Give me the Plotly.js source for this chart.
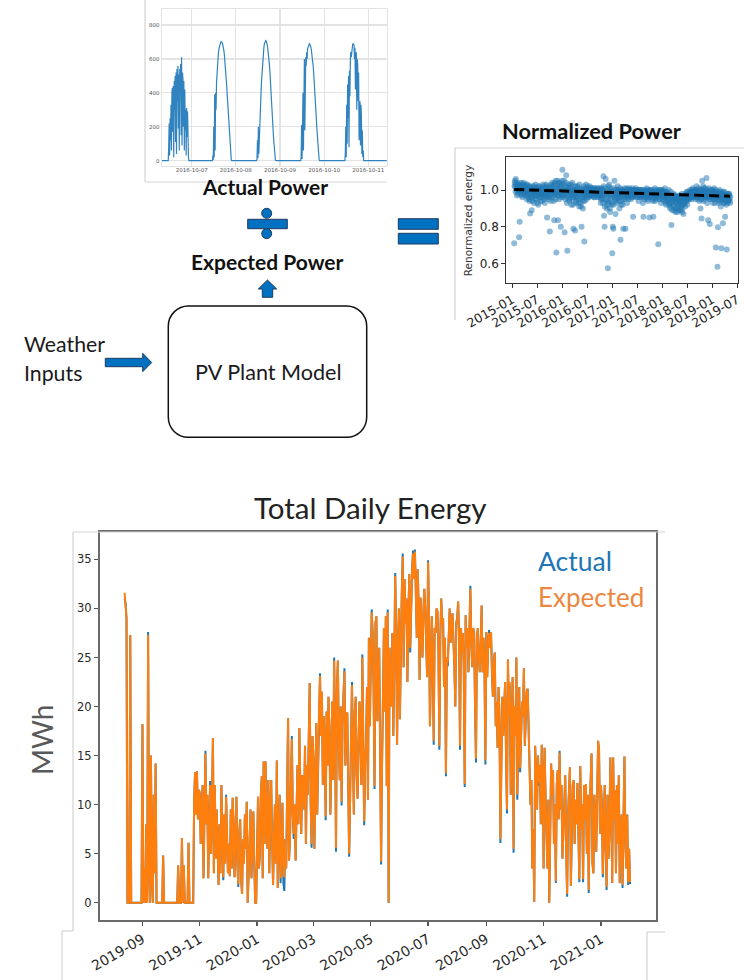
<!DOCTYPE html>
<html>
<head>
<meta charset="utf-8">
<script src="https://cdn.plot.ly/plotly-3.0.1.min.js"></script>
<style>
  html, body { margin: 0; padding: 0; background: #ffffff; }
  #chart { width: 744px; height: 980px; }
</style>
</head>
<body>
<div id="chart"></div>
<script>
// ---------- Data: AC power of the plant, 15-minute samples, 11:15 to 22:30 each day ----------
const powerDayDates = ['2016-10-06', '2016-10-07', '2016-10-08', '2016-10-09', '2016-10-10'];
const powerDay1 = [0, 80, 220, 30, 250, 120, 330, 60, 400, 430, 170, 440, 20, 470, 300, 500, 110, 520, 40, 540,
  350, 560, 190, 510, 60, 540, 400, 570, 150, 610, 90, 520, 480, 200, 470, 60, 420, 180, 300, 30,
  310, 140, 290, 60, 20, 0];
const powerDay2 = [0, 30, 5, 200, 20, 390, 60, 400, 300, 460, 520, 560, 600, 630, 655, 672, 685, 694, 699, 701,
  700, 697, 691, 681, 667, 649, 627, 600, 568, 532, 492, 448, 400, 348, 294, 240, 186, 136, 90, 52,
  24, 8, 0, 0, 0, 0];
const powerDay3 = [0, 10, 120, 15, 200, 40, 150, 230, 300, 360, 420, 475, 525, 570, 610, 642, 668, 688, 700, 707,
  708, 705, 698, 687, 671, 651, 627, 598, 565, 528, 487, 442, 394, 343, 290, 236, 183, 133, 88, 50,
  22, 6, 0, 0, 0, 0];
const powerDay4 = [0, 20, 210, 10, 150, 400, 60, 330, 600, 180, 520, 610, 560, 640, 600, 660, 672, 683, 689, 690,
  687, 681, 671, 657, 639, 617, 591, 561, 527, 489, 447, 402, 353, 302, 249, 196, 145, 98, 58, 28,
  9, 0, 0, 0, 0, 0];
const powerDay5 = [0, 40, 200, 20, 330, 100, 450, 250, 500, 80, 530, 380, 600, 640, 610, 660, 675, 686, 690, 688,
  680, 600, 666, 420, 610, 640, 300, 600, 560, 350, 520, 120, 300, 350, 90, 330, 260, 40, 180, 20,
  60, 0, 0, 0, 0, 0];
const powerEdgeTimes = ['2016-10-06 00:00', '2016-10-11 23:45'];
const powerEdgeValues = [0, 0];
const powerTickDates = ['2016-10-07', '2016-10-08', '2016-10-09', '2016-10-10', '2016-10-11'];

// ---------- Data: renormalized energy, two interleaved 4-day series (2-day spacing overall) ----------
const normStartA = '2015-01-15';
const normStartB = '2015-01-17';
const normStepDays = 4;
const normEnergyA = [
  0.71, 1.04, 1.02, 1.06, 1.00, 0.97, 1.03, 1.01, 0.99, 0.743,
  0.828, 1.02, 0.98, 1.03, 1.00, 0.96, 1.01, 1.04, 0.99, 1.02,
  0.97, 1.00, 1.03, 0.95, 1.01, 0.99, 0.96, 1.02, 0.94, 0.873,
  0.98, 1.00, 0.89, 0.96, 1.02, 0.99, 0.93, 1.01, 0.97, 1.03,
  0.99, 0.95, 1.01, 0.98, 0.92, 1.00, 0.97, 1.02, 0.96, 0.99,
  1.01, 0.94, 0.98, 1.03, 0.97, 0.99, 0.93, 1.00, 0.96, 1.02,
  0.85, 0.98, 1.01, 0.95, 0.99, 0.774, 1.00, 0.97, 1.03, 0.96,
  1.02, 0.99, 0.94, 0.835, 1.04, 0.98, 1.05, 0.66, 1.01, 0.97,
  0.835, 1.04, 0.95, 1.02, 0.99, 0.80, 1.03, 0.97, 1.11, 1.00,
  0.96, 1.05, 0.77, 0.98, 1.02, 1.08, 0.93, 0.67, 1.00, 0.97,
  1.03, 0.95, 0.99, 1.01, 0.92, 0.98, 1.04, 0.96, 0.79, 1.00,
  0.97, 0.78, 1.02, 0.94, 0.99, 0.96, 1.01, 0.93, 0.98, 1.03,
  0.95, 0.99, 0.91, 0.80, 1.00, 0.96, 0.94, 1.02, 0.72, 0.97,
  0.99, 1.03, 0.95, 1.00, 0.97, 1.01, 0.96, 0.99, 1.02, 0.98,
  1.00, 0.97, 1.01, 0.99, 0.98, 1.00, 0.96, 1.01, 0.99, 0.98,
  1.00, 0.97, 0.99, 1.01, 0.98, 0.96, 1.00, 0.99, 0.93, 0.97,
  1.01, 0.95, 0.98, 1.075, 0.86, 0.80, 0.99, 1.06, 0.94, 0.90,
  0.97, 0.575, 1.02, 0.93, 0.99, 0.88, 1.01, 0.96, 0.92, 0.656,
  0.80, 0.79, 0.98, 1.05, 0.95, 0.87, 1.00, 0.97, 0.93, 1.02,
  0.96, 0.99, 0.90, 1.01, 0.73, 0.97, 0.94, 1.00, 0.92, 0.79,
  0.98, 1.01, 0.95, 0.79, 0.99, 0.97, 0.93, 1.00, 0.96, 0.98,
  1.01, 0.97, 0.99, 0.95, 1.00, 0.98, 0.96, 0.855, 0.99, 1.00,
  0.97, 0.99, 1.01, 0.96, 0.98, 1.00, 0.97, 0.94, 0.99, 1.00,
  0.98, 0.96, 1.00, 0.97, 0.99, 0.93, 0.855, 0.98, 1.00, 0.96,
  0.99, 0.97, 1.01, 0.95, 0.98, 1.00, 0.96, 0.85, 0.99, 0.97,
  1.00, 0.96, 0.98, 0.94, 0.855, 0.99, 0.97, 1.01, 0.95, 0.98,
  0.96, 1.00, 0.97, 0.705, 0.99, 0.95, 1.00, 0.97, 0.93, 0.99,
  0.98, 1.00, 0.96, 0.99, 0.94, 1.01, 0.97, 0.92, 0.99, 0.96,
  0.98, 0.95, 1.00, 0.93, 0.97, 0.91, 0.99, 0.81, 0.94, 0.96,
  0.92, 0.98, 0.89, 0.95, 0.97, 0.90, 0.93, 0.96, 0.88, 0.95,
  0.91, 0.97, 0.94, 0.89, 0.96, 0.92, 0.98, 0.90, 0.95, 0.87,
  0.93, 0.97, 0.91, 0.96, 0.94, 0.99, 0.92, 0.97, 0.95, 0.98,
  0.96, 1.00, 0.97, 0.99, 0.95, 0.98, 1.01, 0.96, 0.99, 0.97,
  1.00, 0.95, 0.98, 1.02, 0.96, 0.99, 0.97, 1.01, 0.94, 0.98,
  0.90, 1.00, 0.845, 1.05, 0.97, 1.02, 0.95, 0.99, 0.96, 1.01,
  0.98, 1.065, 0.96, 0.99, 0.835, 0.97, 1.00, 0.815, 0.95, 0.98,
  1.00, 0.96, 0.99, 0.93, 0.97, 1.01, 0.95, 0.98, 0.688, 0.96,
  0.99, 0.583, 0.797, 0.97, 0.94, 1.00, 0.96, 0.91, 0.683, 0.98,
  0.95, 0.82, 0.99, 0.93, 0.97, 0.855, 0.96, 0.92, 0.677, 0.97,
  0.94, 0.98, 0.95, 0.97, 0.93
];
const normEnergyB = [
  1.02, 1.05, 0.99, 1.03, 1.01, 1.04, 0.98, 1.02, 1.00, 1.03,
  0.99, 1.01, 1.04, 0.97, 1.02, 1.00, 0.98, 1.03, 1.01, 0.99,
  1.02, 0.98, 1.00, 1.03, 0.97, 1.01, 0.99, 0.95, 1.02, 0.98,
  0.96, 1.01, 0.99, 0.94, 1.00, 0.97, 1.02, 0.98, 0.95, 1.00,
  0.97, 1.01, 0.93, 0.99, 1.02, 0.96, 0.98, 1.00, 0.94, 1.01,
  0.98, 1.00, 0.96, 1.02, 0.99, 0.95, 1.01, 0.97, 1.03, 0.98,
  1.00, 0.96, 0.99, 1.02, 0.97, 1.01, 0.94, 0.99, 1.00, 1.04,
  0.98, 1.01, 0.97, 1.03, 0.99, 0.95, 1.02, 0.98, 1.00, 1.05,
  0.97, 1.01, 0.99, 1.04, 0.96, 1.02, 0.98, 1.05, 1.00, 0.97,
  1.03, 0.99, 1.01, 0.95, 1.04, 0.98, 1.00, 0.96, 1.02, 0.99,
  0.94, 1.01, 0.97, 1.03, 0.99, 0.95, 1.00, 0.92, 0.98, 1.02,
  0.96, 1.00, 0.93, 0.99, 0.97, 1.02, 0.95, 0.99, 0.91, 1.00,
  0.98, 0.93, 1.01, 0.96, 0.99, 0.90, 0.97, 1.00, 0.94, 0.98,
  1.01, 0.97, 0.99, 1.02, 0.96, 1.00, 0.98, 1.01, 0.97, 0.99,
  0.98, 1.01, 0.97, 1.00, 0.99, 0.96, 1.01, 0.98, 1.00, 0.97,
  0.99, 1.01, 0.96, 0.98, 1.00, 0.97, 0.99, 1.01, 0.95, 0.98,
  0.96, 1.00, 0.93, 1.02, 0.97, 0.91, 1.01, 0.95, 0.98, 0.92,
  1.00, 0.94, 0.97, 1.03, 0.90, 0.98, 0.95, 1.00, 0.93, 0.97,
  0.99, 0.92, 1.01, 0.96, 0.98, 0.94, 1.00, 0.95, 0.99, 0.97,
  1.00, 0.94, 0.98, 0.96, 0.99, 0.92, 1.00, 0.97, 0.95, 0.99,
  0.97, 0.99, 1.00, 0.96, 0.98, 1.01, 0.97, 0.99, 0.95, 1.00,
  0.98, 1.00, 0.97, 0.99, 0.96, 1.01, 0.99, 0.97, 1.00, 0.98,
  0.99, 0.97, 1.00, 0.98, 0.96, 0.99, 1.00, 0.97, 0.98, 0.96,
  1.00, 0.98, 0.97, 0.99, 0.96, 1.00, 0.98, 0.95, 0.99, 0.97,
  0.96, 0.99, 0.97, 1.00, 0.94, 0.98, 0.96, 0.99, 0.97, 1.00,
  0.97, 0.99, 0.95, 0.98, 1.00, 0.96, 0.99, 0.94, 0.98, 0.97,
  0.99, 0.96, 0.98, 1.00, 0.97, 0.99, 0.95, 0.98, 1.00, 0.96,
  0.97, 0.99, 0.95, 0.98, 0.96, 0.99, 0.93, 0.97, 0.95, 0.98,
  0.94, 0.97, 0.92, 0.96, 0.90, 0.95, 0.93, 0.97, 0.89, 0.95,
  0.96, 0.91, 0.94, 0.97, 0.88, 0.93, 0.96, 0.90, 0.94, 0.92,
  0.95, 0.89, 0.93, 0.97, 0.91, 0.94, 0.88, 0.96, 0.92, 0.95,
  0.96, 0.93, 0.98, 0.95, 0.97, 0.94, 0.99, 0.96, 0.98, 0.95,
  0.98, 0.96, 0.99, 0.97, 1.00, 0.96, 0.98, 0.99, 0.97, 1.00,
  0.97, 0.99, 0.96, 1.00, 0.98, 0.95, 0.99, 0.97, 1.00, 0.96,
  0.98, 0.95, 1.00, 0.97, 0.99, 0.94, 1.01, 0.97, 0.99, 0.96,
  1.00, 0.97, 0.93, 0.99, 0.96, 1.01, 0.95, 0.98, 0.97, 0.99,
  0.96, 0.98, 1.00, 0.95, 0.99, 0.97, 0.93, 1.00, 0.96, 0.98,
  0.97, 0.95, 0.99, 0.93, 0.98, 0.96, 0.99, 0.94, 0.97, 0.95,
  0.98, 0.96, 0.93, 0.99, 0.95, 0.97, 0.94, 0.98, 0.96, 0.93,
  0.97, 0.95, 0.98, 0.94, 0.96
];
const trendDates = ['2015-01-15', '2019-05-10'];
const trendValues = [1.003, 0.966];

// ---------- Data: total daily energy (MWh), one value per day from 2019-08-13 ----------
const energyStart = '2019-08-13';
const expectedMWh = [
  31.6, 30.5, 29.0, 0, 0, 0, 27.3, 0, 0, 0,
  0, 0, 0, 0, 0, 0, 0, 0, 0, 18.2,
  0, 3.5, 0, 8.0, 0, 27.3, 4.0, 0, 15.0, 2.5,
  0, 11.0, 3.0, 14.2, 0, 0, 0, 0, 0, 0,
  0, 4.8, 0, 0, 0, 0, 0, 0, 0, 0,
  0, 0, 0, 0, 0, 0, 0, 3.8, 0, 0,
  0, 6.6, 0, 3.8, 0, 0, 0, 0, 6.1, 0,
  0, 0, 0, 0, 10.5, 13.3, 9.0, 13.4, 8.5, 11.5,
  11.2, 6.0, 9.5, 12.0, 2.5, 10.5, 15.2, 8.0, 11.0, 2.5,
  7.5, 12.0, 5.0, 10.0, 16.8, 3.0, 12.0, 4.5, 9.5, 5.5,
  1.8, 8.0, 3.0, 12.0, 6.5, 2.6, 9.0, 4.0, 10.8, 7.5,
  3.0, 6.0, 2.7, 9.5, 3.5, 10.7, 5.0, 2.6, 8.0, 10.8,
  4.0, 1.9, 7.0, 8.5, 2.5, 0.9, 6.5, 4.0, 9.0, 5.5,
  10.3, 0, 3.0, 7.5, 9.5, 2.5, 6.0, 9.3, 4.0, 0,
  0, 7.0, 10.8, 3.5, 5.0, 11.0, 12.9, 2.5, 14.4, 6.0,
  14.4, 8.0, 5.5, 12.5, 3.0, 9.0, 12.5, 6.5, 1.8, 6.6,
  10.0, 4.0, 14.5, 1.5, 8.0, 11.0, 2.5, 5.0, 10.2, 3.0,
  2.6, 6.5, 3.5, 12.0, 18.8, 4.3, 6.5, 12.0, 16.7, 9.0,
  7.0, 10.0, 4.3, 9.3, 14.0, 8.0, 17.8, 12.0, 7.0, 13.0,
  12.7, 9.5, 16.0, 6.0, 14.0, 11.0, 19.0, 22.4, 10.5, 6.0,
  17.0, 14.5, 5.5, 12.0, 18.3, 9.0, 15.5, 20.0, 23.1, 17.0,
  21.5, 12.0, 19.0, 16.0, 8.8, 19.5, 14.0, 21.0, 17.5, 9.0,
  15.0, 20.5, 12.5, 24.7, 18.0, 5.6, 22.0, 24.7, 16.0, 12.5,
  20.0, 10.3, 18.5, 21.0, 23.6, 14.0, 19.0, 19.4, 12.0, 5.0,
  10.6, 17.0, 22.2, 15.5, 9.0, 19.5, 21.0, 13.0, 10.6, 16.0,
  20.5, 17.5, 12.0, 25.0, 19.0, 8.3, 14.0, 16.5, 22.0, 10.5,
  27.0, 18.0, 24.0, 29.6, 27.5, 22.0, 11.9, 28.5, 29.2, 18.5,
  20.5, 26.0, 15.3, 4.2, 14.1, 23.0, 28.0, 19.5, 29.2, 11.9,
  29.6, 0, 26.0, 22.0, 20.0, 27.5, 17.0, 24.0, 33.3, 28.0,
  16.1, 26.0, 30.0, 18.7, 29.0, 31.5, 35.3, 24.0, 33.0, 28.5,
  31.0, 22.5, 29.0, 33.5, 26.0, 30.5, 34.0, 35.6, 33.0, 35.8,
  31.0, 27.0, 34.0, 30.0, 22.7, 31.1, 28.0, 25.0, 29.5, 32.0,
  30.0, 26.5, 23.0, 34.7, 29.5, 18.0, 27.0, 29.2, 24.5, 16.5,
  28.0, 27.5, 30.0, 29.7, 26.0, 16.0, 27.0, 31.0, 28.5, 29.0,
  22.0, 27.0, 13.2, 25.0, 24.5, 28.5, 30.0, 26.5, 29.0, 29.5,
  27.0, 24.0, 20.0, 28.5, 29.0, 30.7, 27.0, 16.0, 28.0, 25.5,
  27.5, 24.0, 12.1, 29.3, 26.0, 28.0, 23.5, 30.0, 32.0, 26.5,
  24.0, 28.0, 27.5, 20.0, 14.7, 27.0, 28.0, 25.0, 23.5, 26.0,
  30.3, 23.5, 27.0, 24.5, 14.5, 27.6, 23.0, 26.5, 27.5, 26.0,
  27.6, 23.5, 21.0, 24.5, 25.5, 18.0, 20.5, 15.8, 22.0, 19.0,
  6.5, 14.0, 21.0, 17.0, 19.5, 22.5, 15.0, 9.5, 24.8, 19.0,
  22.5, 11.0, 18.0, 23.0, 5.5, 20.0, 17.0, 25.0, 11.0, 15.0,
  22.0, 13.7, 17.0, 20.5, 19.0, 23.9, 16.0, 18.8, 21.5, 21.8,
  17.0, 13.0, 10.0, 12.5, 3.5, 7.5, 0.1, 16.0, 13.0, 9.5,
  15.0, 12.3, 14.0, 8.0, 16.1, 12.5, 3.5, 15.8, 11.0, 6.5,
  3.5, 10.5, 0, 7.0, 14.2, 11.0, 13.5, 6.0, 10.0, 2.2,
  12.0, 13.5, 8.5, 15.3, 9.5, 12.0, 4.5, 7.0, 11.0, 13.0,
  5.5, 0.9, 9.0, 11.5, 13.8, 1.7, 8.0, 12.0, 12.5, 6.0,
  10.5, 8.0, 12.2, 4.5, 2.4, 13.9, 7.5, 10.0, 2.4, 12.0,
  8.5, 12.1, 5.0, 11.0, 1.3, 9.5, 13.7, 15.2, 4.0, 3.0,
  11.0, 9.0, 5.2, 13.0, 16.5, 15.5, 7.0, 12.0, 10.2, 2.9,
  9.5, 12.0, 6.0, 1.6, 11.0, 4.5, 7.0, 14.8, 10.0, 2.0,
  14.8, 8.5, 11.5, 3.0, 12.0, 6.0, 13.0, 2.0, 7.0, 9.0,
  1.8, 11.0, 14.9, 6.0, 3.5, 9.0, 2.1, 5.5, 2.1
];
const actualMWh = [
  31.0, 30.5, 29.0, 0, 0, 0, 27.3, 0, 0, 0,
  0, 0, 0, 0, 0, 0, 0, 0, 0, 18.2,
  0, 3.5, 0, 8.0, 0, 27.6, 4.0, 0, 15.0, 2.5,
  0, 11.0, 3.0, 14.2, 0, 0, 0, 0, 0, 0,
  0, 4.8, 0, 0, 0, 0, 0, 0, 0, 0,
  0, 0, 0, 0, 0, 0, 0, 3.8, 0, 0,
  0, 6.6, 0, 3.8, 0, 0, 0, 0, 6.1, 0,
  0, 0, 0, 0, 10.5, 13.3, 9.0, 13.4, 8.5, 11.5,
  11.2, 6.0, 9.5, 12.0, 2.5, 10.5, 15.5, 8.0, 11.0, 2.5,
  7.5, 12.4, 5.0, 10.0, 16.8, 3.0, 12.0, 4.5, 9.5, 5.5,
  1.8, 8.0, 3.0, 12.0, 6.5, 2.3, 9.0, 4.0, 11.0, 7.5,
  3.0, 6.0, 2.7, 9.5, 3.5, 10.7, 5.0, 2.6, 8.0, 10.8,
  4.0, 1.6, 7.0, 8.5, 2.5, 0.9, 6.5, 4.0, 9.0, 5.5,
  10.3, 0, 3.0, 7.5, 9.5, 2.5, 6.0, 9.3, 4.0, 0,
  0, 7.0, 10.8, 3.5, 5.0, 11.0, 12.9, 2.5, 14.4, 6.0,
  14.4, 8.0, 5.5, 12.5, 3.0, 9.0, 12.5, 6.5, 1.8, 6.6,
  10.0, 4.0, 14.5, 1.5, 8.0, 11.0, 2.0, 5.0, 10.2, 2.0,
  1.2, 6.5, 3.5, 12.0, 18.8, 4.3, 6.5, 12.0, 17.0, 9.0,
  6.5, 10.0, 4.3, 9.3, 14.0, 8.0, 17.8, 12.0, 7.0, 13.0,
  12.4, 9.5, 16.0, 6.0, 14.0, 11.0, 19.0, 22.4, 10.5, 5.6,
  17.0, 14.5, 5.5, 12.0, 18.3, 9.0, 15.5, 20.0, 23.4, 17.0,
  21.5, 12.0, 19.0, 16.0, 8.4, 19.5, 14.0, 21.0, 17.5, 9.0,
  15.0, 20.5, 12.5, 25.0, 18.0, 5.2, 22.0, 24.7, 16.0, 12.5,
  20.0, 9.9, 18.5, 21.0, 23.9, 14.0, 19.0, 19.4, 12.0, 4.7,
  10.6, 17.0, 22.5, 15.5, 9.0, 19.5, 21.0, 13.0, 10.6, 16.0,
  20.5, 17.5, 12.0, 25.3, 19.0, 7.9, 14.0, 16.5, 22.0, 10.5,
  27.0, 18.0, 24.0, 29.9, 27.5, 22.0, 11.6, 28.5, 29.2, 18.5,
  20.5, 26.0, 14.9, 3.9, 14.1, 23.0, 28.0, 19.5, 29.2, 11.9,
  29.9, 0, 26.0, 22.0, 20.0, 27.5, 17.0, 24.0, 33.6, 28.0,
  16.1, 26.0, 30.0, 18.7, 29.0, 31.5, 35.6, 24.0, 33.0, 28.5,
  31.0, 22.5, 29.0, 33.5, 25.5, 30.5, 34.0, 35.9, 33.0, 36.0,
  31.0, 27.0, 34.0, 30.0, 22.7, 31.1, 28.0, 25.0, 29.5, 32.0,
  30.0, 26.5, 23.0, 34.9, 29.5, 18.0, 27.0, 29.2, 24.5, 16.1,
  28.0, 27.5, 30.0, 29.7, 26.0, 15.6, 27.0, 31.0, 28.5, 29.0,
  22.0, 27.0, 12.9, 25.0, 24.1, 28.5, 30.0, 26.5, 29.0, 29.5,
  27.0, 24.0, 20.0, 28.5, 29.0, 30.7, 27.0, 15.6, 28.0, 25.5,
  27.5, 24.0, 11.8, 29.3, 26.0, 28.0, 23.5, 30.0, 32.3, 26.5,
  24.0, 28.0, 27.5, 20.0, 14.3, 27.0, 28.0, 25.0, 23.5, 26.0,
  30.3, 23.5, 27.0, 24.5, 14.1, 27.6, 23.0, 26.5, 27.8, 26.0,
  27.6, 23.5, 21.0, 24.5, 25.5, 18.0, 20.2, 15.8, 22.0, 19.0,
  6.1, 14.0, 21.0, 17.0, 19.5, 22.5, 15.0, 9.1, 24.8, 19.0,
  22.1, 11.0, 18.0, 23.0, 5.1, 20.0, 17.0, 25.0, 10.5, 15.0,
  22.0, 13.3, 17.0, 20.5, 19.0, 23.9, 16.0, 18.5, 21.5, 21.8,
  17.0, 13.0, 10.0, 12.5, 3.5, 7.5, 0.1, 16.0, 13.0, 9.5,
  15.0, 11.9, 14.0, 8.0, 16.1, 12.5, 3.5, 15.8, 11.0, 6.5,
  3.5, 10.5, 0, 7.0, 14.2, 11.0, 13.5, 6.0, 10.0, 2.0,
  12.0, 13.5, 8.5, 15.5, 9.5, 12.0, 4.5, 7.0, 11.0, 13.0,
  5.5, 0.6, 9.0, 11.5, 13.8, 1.7, 8.0, 12.0, 12.5, 6.0,
  10.5, 8.0, 12.2, 4.5, 2.1, 13.9, 7.5, 10.0, 2.1, 12.0,
  8.5, 11.8, 5.0, 11.0, 1.0, 9.5, 13.7, 15.2, 4.0, 3.0,
  11.0, 9.0, 5.2, 13.0, 16.5, 15.5, 7.0, 12.0, 10.2, 2.6,
  9.5, 12.0, 6.0, 1.3, 11.0, 4.5, 7.0, 14.8, 10.0, 2.0,
  14.8, 8.5, 11.5, 3.0, 12.0, 6.0, 13.0, 2.0, 7.0, 9.0,
  1.5, 11.0, 14.9, 6.0, 3.5, 9.0, 1.8, 5.5, 1.9
];

// ---------- Helpers ----------
const W = 744, H = 980;
const px = X => X / W;          // page pixel -> paper x
const py = Y => 1 - Y / H;      // page pixel -> paper y
const pad = n => String(n).padStart(2, '0');

function addDays(iso, n) {
  const d = new Date(iso + 'T00:00:00Z');
  d.setUTCDate(d.getUTCDate() + n);
  return d.toISOString().slice(0, 10);
}

// power samples: 15-minute steps starting 11:15
const powerX = [powerEdgeTimes[0]];
const powerY = [powerEdgeValues[0]];
[powerDay1, powerDay2, powerDay3, powerDay4, powerDay5].forEach((vals, d) => {
  vals.forEach((v, k) => {
    const m = 11 * 60 + 15 + 15 * k;
    powerX.push(powerDayDates[d] + ' ' + pad(Math.floor(m / 60)) + ':' + pad(m % 60));
    powerY.push(v);
  });
});
powerX.push(powerEdgeTimes[1]);
powerY.push(powerEdgeValues[1]);

const normDates = normEnergyA.map((_, i) => addDays(normStartA, i * normStepDays))
  .concat(normEnergyB.map((_, i) => addDays(normStartB, i * normStepDays)));
const normValues = normEnergyA.concat(normEnergyB);
const energyDates = expectedMWh.map((_, i) => addDays(energyStart, i));

// ---------- Traces ----------
const traces = [
  { type: 'scatter', mode: 'lines', x: powerX, y: powerY, xaxis: 'x', yaxis: 'y',
    line: { color: '#3183bf', width: 1.2 }, hoverinfo: 'skip' },
  { type: 'scatter', mode: 'markers', x: normDates, y: normValues, xaxis: 'x2', yaxis: 'y2',
    marker: { color: 'rgba(31,119,180,0.5)', size: 6, line: { width: 0 } }, hoverinfo: 'skip' },
  { type: 'scatter', mode: 'lines', x: trendDates, y: trendValues, xaxis: 'x2', yaxis: 'y2',
    line: { color: '#000000', width: 3, dash: '10px,5px' }, hoverinfo: 'skip' },
  { type: 'scatter', mode: 'lines', name: 'Actual', x: energyDates, y: actualMWh, xaxis: 'x3', yaxis: 'y3',
    line: { color: '#1f77b4', width: 2 }, hoverinfo: 'skip' },
  { type: 'scatter', mode: 'lines', name: 'Expected', x: energyDates, y: expectedMWh, xaxis: 'x3', yaxis: 'y3',
    line: { color: '#ff7f0e', width: 2 }, hoverinfo: 'skip' }
];

// ---------- Diagram shapes ----------
const BLUE = '#0070c0', EDGE = '#1f3b60', FRAME = '#d4d4d4';
function seg(x0, y0, x1, y1, color, w) {
  return { type: 'line', xref: 'paper', yref: 'paper', x0: px(x0), y0: py(y0), x1: px(x1), y1: py(y1),
           line: { color: color, width: w }, layer: 'above' };
}
function poly(points) {
  return { type: 'path', xref: 'paper', yref: 'paper', layer: 'above',
           path: 'M ' + points.map(p => px(p[0]) + ',' + py(p[1])).join(' L ') + ' Z',
           fillcolor: BLUE, line: { color: EDGE, width: 1 } };
}
function box(x0, y0, x1, y1) {
  return { type: 'rect', xref: 'paper', yref: 'paper', layer: 'above',
           x0: px(x0), x1: px(x1), y0: py(y1), y1: py(y0),
           fillcolor: BLUE, line: { color: EDGE, width: 1 } };
}
function dot(cx, cy, r) {
  return { type: 'circle', xref: 'paper', yref: 'paper', layer: 'above',
           x0: px(cx - r), x1: px(cx + r), y0: py(cy + r), y1: py(cy - r),
           fillcolor: BLUE, line: { color: EDGE, width: 1 } };
}
function roundedBox(x0, y0, x1, y1, r) {
  const k = 0.552 * r;
  const P = (x, y) => px(x) + ',' + py(y);
  const path = 'M ' + P(x0 + r, y0) + ' L ' + P(x1 - r, y0) +
    ' C ' + P(x1 - r + k, y0) + ' ' + P(x1, y0 + r - k) + ' ' + P(x1, y0 + r) +
    ' L ' + P(x1, y1 - r) +
    ' C ' + P(x1, y1 - r + k) + ' ' + P(x1 - r + k, y1) + ' ' + P(x1 - r, y1) +
    ' L ' + P(x0 + r, y1) +
    ' C ' + P(x0 + r - k, y1) + ' ' + P(x0, y1 - r + k) + ' ' + P(x0, y1 - r) +
    ' L ' + P(x0, y0 + r) +
    ' C ' + P(x0, y0 + r - k) + ' ' + P(x0 + r - k, y0) + ' ' + P(x0 + r, y0) + ' Z';
  return { type: 'path', xref: 'paper', yref: 'paper', layer: 'above', path: path,
           fillcolor: 'rgba(0,0,0,0)', line: { color: '#111111', width: 1.5 } };
}

const shapes = [
  // frames around the two upper pictures and the energy panel
  seg(145, 0, 145, 182, FRAME, 1.2),
  seg(145, 182, 387, 182, FRAME, 1.2),
  seg(455, 148, 744, 148, FRAME, 1.2),
  seg(455, 148, 455, 320, FRAME, 1.2),
  seg(73, 532, 665, 532, FRAME, 1.2),
  seg(73, 532, 73, 931, FRAME, 1.2),
  seg(62, 931, 73, 931, FRAME, 1.2),
  seg(62, 931, 62, 980, FRAME, 1.2),
  seg(647, 932, 665, 932, FRAME, 1.2),
  seg(647, 932, 647, 980, FRAME, 1.2),
  // divide sign
  dot(266.7, 213.3, 5),
  box(247.7, 219.3, 287.3, 228.7),
  dot(266.7, 233.6, 5),
  // equals sign
  box(398.3, 218.7, 438.3, 229.3),
  box(398.3, 233.3, 438.3, 244),
  // arrow up: model -> expected power
  poly([[262.3, 297.3], [262.3, 289], [258.3, 289], [267.5, 280], [276.7, 289], [272.7, 289], [272.7, 297.3]]),
  // arrow right: weather -> model
  poly([[105.3, 358.3], [142.7, 358.3], [142.7, 353.3], [151.7, 362.5], [142.7, 371.7], [142.7, 366.7], [105.3, 366.7]]),
  // plant model box
  roundedBox(168.3, 306, 366.7, 437.3, 20)
];

// ---------- Text ----------
function label(text, X, Y, opts) {
  return Object.assign({ xref: 'paper', yref: 'paper', x: px(X), y: py(Y), text: text, showarrow: false,
    xanchor: 'center', yanchor: 'middle',
    font: { family: 'Lato, "Noto Sans", sans-serif', size: 21, color: '#111111' } }, opts || {});
}
const annotations = [
  label('<b>Actual Power</b>', 265, 187),
  label('<b>Expected Power</b>', 267, 261.5),
  label('<b>Normalized Power</b>', 591.7, 131, { font: { family: 'Lato, sans-serif', size: 21.8, color: '#111111' } }),
  label('PV Plant Model', 268, 371.5, { font: { family: 'Lato, sans-serif', size: 21.6, color: '#1a1a1a' } }),
  label('Weather', 21.7, 344, { xanchor: 'left', font: { family: 'Lato, sans-serif', size: 21.3, color: '#1a1a1a' } }),
  label('Inputs', 21.7, 373, { xanchor: 'left', font: { family: 'Lato, sans-serif', size: 21.3, color: '#1a1a1a' } }),
  label('Renormalized energy', 468.3, 220, { textangle: -90,
    font: { family: 'DejaVu Sans, sans-serif', size: 10.5, color: '#333333' } }),
  label('Total Daily Energy', 370, 507, { font: { family: 'Lato, sans-serif', size: 29.5, color: '#222222' } }),
  label('MWh', 42, 740, { textangle: -90, font: { family: 'Lato, sans-serif', size: 28, color: '#595959' } }),
  label('Actual', 536, 561, { xanchor: 'left', font: { family: 'Lato, sans-serif', size: 26.5, color: '#2275b5' } }),
  label('Expected', 536, 597, { xanchor: 'left', font: { family: 'Lato, sans-serif', size: 26, color: '#ec8740' } })
];

// ---------- Layout ----------
const layout = {
  width: W, height: H,
  margin: { l: 0, r: 0, t: 0, b: 0, pad: 0 },
  paper_bgcolor: '#ffffff', plot_bgcolor: '#ffffff',
  showlegend: false,
  font: { family: 'DejaVu Sans, sans-serif', color: '#333333' },
  // plant power, five days
  xaxis: {
    domain: [px(161.7), px(386.7)], anchor: 'y', type: 'date',
    range: ['2016-10-06 07:42', '2016-10-11 10:00'],
    tickvals: powerTickDates, tickformat: '%Y-%m-%d', ticks: '', ticklabelstandoff: -2,
    tickfont: { size: 5.5, color: '#555555' },
    showgrid: true, gridcolor: '#e3e3e3', gridwidth: 1.2,
    showline: true, linecolor: '#e3e3e3', linewidth: 1.2, mirror: true, zeroline: false
  },
  yaxis: {
    domain: [py(165.7), py(9.3)], anchor: 'x',
    range: [-29.5, 892.7], tickvals: [0, 200, 400, 600, 800], ticks: '',
    tickfont: { size: 5.5, color: '#555555' },
    showgrid: true, gridcolor: '#e3e3e3', gridwidth: 1.2,
    showline: true, linecolor: '#e3e3e3', linewidth: 1.2, mirror: true, zeroline: false
  },
  // renormalized energy scatter
  xaxis2: {
    domain: [px(505.7), px(738)], anchor: 'y2', type: 'date',
    range: ['2014-11-14', '2019-07-07'], tick0: '2015-01-01', dtick: 'M6', tickformat: '%Y-%m',
    tickangle: -30, ticks: 'outside', ticklen: 3.5, tickwidth: 1, tickcolor: '#333333',
    tickfont: { size: 12.5, color: '#222222' },
    showgrid: false, showline: true, linecolor: '#333333', linewidth: 1, mirror: true, zeroline: false
  },
  yaxis2: {
    domain: [py(283.3), py(156.7)], anchor: 'x2',
    range: [0.493, 1.181], tickvals: [0.6, 0.8, 1.0], tickformat: '.1f',
    ticks: 'outside', ticklen: 3.5, tickwidth: 1, tickcolor: '#333333',
    tickfont: { size: 12, color: '#222222' },
    showgrid: false, showline: true, linecolor: '#333333', linewidth: 1, mirror: true, zeroline: false
  },
  // total daily energy
  xaxis3: {
    domain: [px(100), px(655.7)], anchor: 'y3', type: 'date',
    range: ['2019-07-17 19:00', '2021-02-28 07:00'], tick0: '2019-09-01', dtick: 'M2', tickformat: '%Y-%m',
    tickangle: -30, ticks: 'outside', ticklen: 4, tickwidth: 1.3, tickcolor: '#555555',
    tickfont: { size: 14, color: '#2a2a2a' },
    showgrid: false, showline: true, linecolor: '#6a6a6a', linewidth: 2, mirror: true, zeroline: false
  },
  yaxis3: {
    domain: [py(920), py(532.3)], anchor: 'x3',
    range: [-1.76, 37.76], tick0: 0, dtick: 5,
    ticks: 'outside', ticklen: 4, tickwidth: 1.3, tickcolor: '#555555',
    tickfont: { size: 11.5, color: '#2a2a2a' },
    showgrid: false, showline: true, linecolor: '#6a6a6a', linewidth: 2, mirror: true, zeroline: false
  },
  shapes: shapes,
  annotations: annotations
};

Plotly.newPlot('chart', traces, layout, { displayModeBar: false, staticPlot: true });
</script>
</body>
</html>
